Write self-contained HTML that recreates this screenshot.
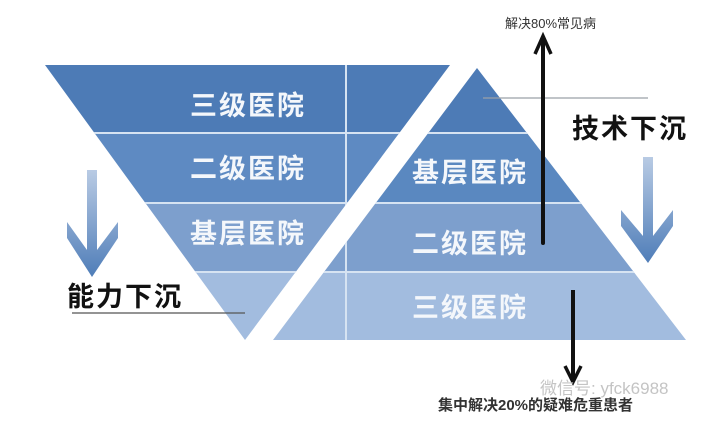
<!DOCTYPE html>
<html><head><meta charset="utf-8"><style>
html,body{margin:0;padding:0;background:#fff;}
svg{display:block;}
text{font-family:"Liberation Sans","Noto Sans CJK SC",sans-serif;}
</style></head><body>
<svg width="711" height="421" viewBox="0 0 711 421" xmlns="http://www.w3.org/2000/svg">
<defs>
<clipPath id="L"><polygon points="45,65 450,65 245,340"/></clipPath>
<clipPath id="R"><polygon points="477,68 686,340 273,340"/></clipPath>
<linearGradient id="ag" x1="0" y1="0" x2="0" y2="1">
<stop offset="0" stop-color="#b9cbe4"/><stop offset="1" stop-color="#4f7db8"/></linearGradient>
</defs>
<g clip-path="url(#L)">
<rect x="0" y="60" width="711" height="73" fill="#4d7bb6"/>
<rect x="0" y="133" width="711" height="70" fill="#5e8ac2"/>
<rect x="0" y="203" width="711" height="69" fill="#7d9fcd"/>
<rect x="0" y="272" width="711" height="70" fill="#a2bcdf"/>
</g>
<g clip-path="url(#R)">
<rect x="0" y="60" width="711" height="73" fill="#4d7bb6"/>
<rect x="0" y="133" width="711" height="70" fill="#5a88c0"/>
<rect x="0" y="203" width="711" height="69" fill="#7d9fcd"/>
<rect x="0" y="272" width="711" height="70" fill="#a2bcdf"/>
</g>
<g stroke="#d6e3f2" stroke-width="2">
<line x1="0" y1="133" x2="711" y2="133" clip-path="url(#L)"/>
<line x1="0" y1="203" x2="711" y2="203" clip-path="url(#L)"/>
<line x1="0" y1="272" x2="711" y2="272" clip-path="url(#L)"/>
<line x1="0" y1="133" x2="711" y2="133" clip-path="url(#R)"/>
<line x1="0" y1="203" x2="711" y2="203" clip-path="url(#R)"/>
<line x1="0" y1="272" x2="711" y2="272" clip-path="url(#R)"/>
<line x1="346" y1="60" x2="346" y2="345" clip-path="url(#L)"/>
<line x1="346" y1="60" x2="346" y2="345" clip-path="url(#R)"/>
</g>
<g fill="#f4f7fb" font-size="27" font-weight="bold" letter-spacing="2">
<text x="190" y="115">三级医院</text>
<text x="190" y="178">二级医院</text>
<text x="190" y="243">基层医院</text>
<text x="412" y="182">基层医院</text>
<text x="412" y="253">二级医院</text>
<text x="412" y="317">三级医院</text>
</g>
<line x1="483" y1="98" x2="648" y2="98" stroke="#9aa0a8" stroke-width="1.2"/>
<line x1="72" y1="313" x2="245" y2="313" stroke="#555" stroke-width="1.2"/>
<polygon points="87,170 97,170 97,250 118,222 118,238 92,277 67,238 67,222 87,250" fill="url(#ag)"/>
<polygon points="643,157 653,157 653,236 673,210 673,226 648,263 621,226 621,210 643,236" fill="url(#ag)"/>
<line x1="543" y1="243" x2="543" y2="42" stroke="#111" stroke-width="4" stroke-linecap="round"/>
<polyline points="535,54 543,36 551,54" fill="none" stroke="#111" stroke-width="3.5"/>
<line x1="573" y1="290" x2="573" y2="378" stroke="#111" stroke-width="4"/>
<polyline points="565,366 573,382 581,366" fill="none" stroke="#111" stroke-width="3.5"/>
<g fill="#111" font-weight="bold">
<text x="572" y="138" font-size="27" letter-spacing="2">技术下沉</text>
<text x="67" y="306" font-size="27" letter-spacing="2">能力下沉</text>
</g>
<text x="505" y="28" font-size="13" fill="#333">解决80%常见病</text>
<text x="540" y="394" font-size="17" fill="#c4c4c4">微信号: yfck6988</text>
<text x="438" y="410" font-size="15" font-weight="bold" fill="#333">集中解决20%的疑难危重患者</text>
</svg>
</body></html>
